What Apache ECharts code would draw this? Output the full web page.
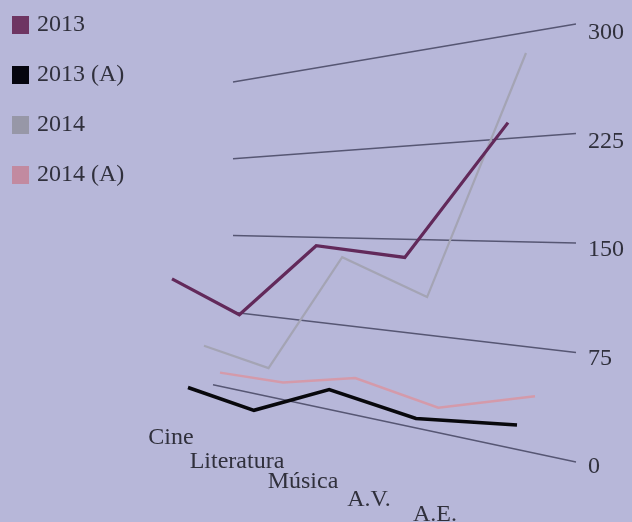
<!DOCTYPE html>
<html><head><meta charset="utf-8">
<script src="https://cdn.jsdelivr.net/npm/echarts@6/dist/echarts.min.js"></script>
<style>html,body{margin:0;padding:0;background:#b7b7d9;}#chart{width:632px;height:522px;}</style>
</head><body><div id="chart"></div>
<script>
// ---------- data ----------
const categories = ['Cine', 'Literatura', 'Música', 'A.V.', 'A.E.'];
const seriesNames = ['2013', '2013 (A)', '2014', '2014 (A)'];
const values2013  = [137, 107, 169, 160, 253];
const values2013A = [21, 12, 42, 31, 39];
const values2014  = [52, 41, 143, 115, 287];
const values2014A = [16, 19, 35, 24, 45];
const valueTicks  = [0, 75, 150, 225, 300];

// ---------- layout / style ----------
const BG = '#b7b7d9';
const FONT = '"Liberation Serif","Times New Roman",serif';
const TEXT = '#30303c';
const GRID_W = 100, GRID_H = 300, VMAX = 300;
const wall = { xL: 233, xR: 576, y0L: 389, y0R: 462, sL: 307 / 300, sR: 438 / 300, zeroExt: 20 };
const persp = 1.33;      // perspective foreshortening along the category axis
const depthDY = 10;      // vertical shift per depth step
const seriesStyle = [
  { name: '2013',     data: values2013,  color: '#62295a', legend: '#6e3562', width: 3.2, depth: 3, z: 5 },
  { name: '2013 (A)', data: values2013A, color: '#08080c', legend: '#06060f', width: 3.5, depth: 2, z: 4 },
  { name: '2014',     data: values2014,  color: '#a4a4b4', legend: '#9797a7', width: 2.2, depth: 1, z: 3 },
  { name: '2014 (A)', data: values2014A, color: '#d49aaa', legend: '#c28aa0', width: 2.5, depth: 0, z: 2 }
];

function persT(tl) { return tl / (tl + persp * (1 - tl)); }
function invPersT(tl) { return tl * persp / (tl * persp + (1 - tl)); }
function wallY(t, v) {
  return wall.y0L + (wall.y0R - wall.y0L) * t - v * (wall.sL + (wall.sR - wall.sL) * t);
}
function norm(p) { return [p[0] / GRID_W, (GRID_H - p[1]) / GRID_H * VMAX]; }
function projSeries(p, d) {
  const n = norm(p); const t = persT(n[0]);
  const xL = 220 - 16 * d, xR = 535 - 9 * d;
  return [xL + (xR - xL) * t, wallY(t, n[1]) + d * depthDY];
}

const series = [];

// gridlines + value labels
series.push({
  type: 'custom', coordinateSystem: 'cartesian2d', silent: true, clip: false, z: 1,
  data: valueTicks.map(v => [0, v]),
  renderItem: function (params, api) {
    const v = api.value(1);
    const a = norm(api.coord([0, v]));
    const b = norm(api.coord([categories.length - 1, v]));
    let x0 = wall.xL + (wall.xR - wall.xL) * a[0], y0 = wallY(a[0], a[1]);
    const x1 = wall.xL + (wall.xR - wall.xL) * b[0], y1 = wallY(b[0], b[1]);
    if (v === 0) { const sl = (y1 - y0) / (x1 - x0); x0 -= wall.zeroExt; y0 -= wall.zeroExt * sl; }
    return {
      type: 'group', children: [
        { type: 'line', shape: { x1: x0, y1: y0, x2: x1, y2: y1 }, style: { stroke: '#565673', lineWidth: 1.3 } },
        { type: 'text', x: x1 + 12, y: y1 + 5 + b[1] / VMAX * 4,
          style: { text: String(v), font: '24px ' + FONT, fill: TEXT, align: 'left', verticalAlign: 'middle' } }
      ]
    };
  }
});

// category labels
series.push({
  type: 'custom', coordinateSystem: 'cartesian2d', silent: true, clip: false, z: 1,
  data: categories.map((c, i) => [i, 0]),
  renderItem: function (params, api) {
    const n = norm(api.coord([api.value(0), 0]));
    return { type: 'text', x: 171 + 264 * n[0], y: 438 + 77 * invPersT(n[0]),
      style: { text: categories[params.dataIndex], font: '24px ' + FONT, fill: TEXT, align: 'center', verticalAlign: 'middle' } };
  }
});

// data lines
seriesStyle.forEach(s => {
  series.push({
    name: s.name, type: 'custom', coordinateSystem: 'cartesian2d', clip: false, z: s.z,
    itemStyle: { color: s.legend },
    data: s.data.map((v, i) => [i, v]),
    renderItem: function (params, api) {
      if (params.dataIndex !== 0) return;
      const pts = s.data.map((v, i) => projSeries(api.coord([i, v]), s.depth));
      return { type: 'polyline', shape: { points: pts },
        style: { stroke: s.color, lineWidth: s.width, fill: null, lineJoin: 'miter', lineCap: 'butt' } };
    }
  });
});

const chart = echarts.init(document.getElementById('chart'));
chart.setOption({
  backgroundColor: BG,
  animation: false,
  legend: {
    data: seriesNames, orient: 'vertical', left: 12, top: 13, padding: 0, icon: 'rect',
    itemWidth: 17, itemHeight: 18, itemGap: 26, selectedMode: false,
    textStyle: { fontFamily: FONT, fontSize: 24, color: TEXT, padding: [0, 0, 0, 3] }
  },
  grid: { left: 0, top: 0, width: GRID_W, height: GRID_H, show: false },
  xAxis: { type: 'category', data: categories, boundaryGap: false, show: false },
  yAxis: { type: 'value', min: 0, max: VMAX, interval: 75, show: false },
  series: series
});
</script></body></html>
